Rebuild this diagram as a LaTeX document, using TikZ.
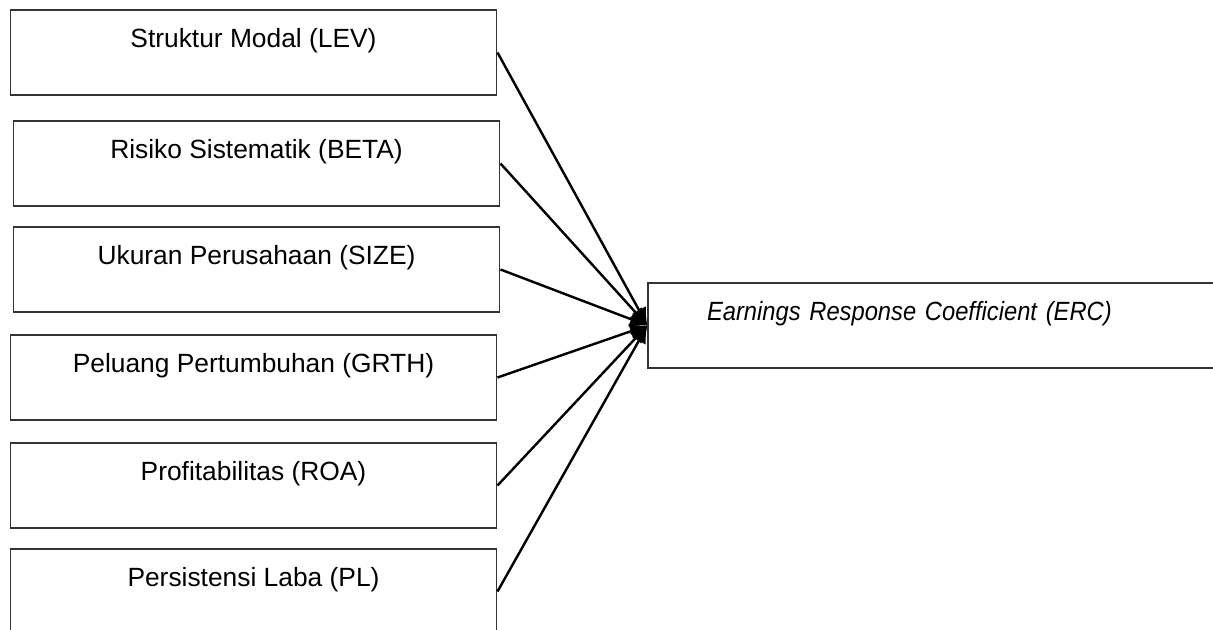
\documentclass[tikz,border=0pt]{standalone}
\usepackage{fontspec}
\setmainfont{Liberation Sans}
\newfontfamily\ercfont[FakeStretch=0.9]{Liberation Sans}
\usetikzlibrary{arrows.meta, calc}

\tikzset{
  var/.style={draw=black!80, line width=0.5pt, minimum width=7.79cm, inner xsep=0pt, inner ysep=0.3cm,
              text height=0.3cm, text depth=0.46cm, font=\fontsize{12}{14}\selectfont},
  link/.style={line width=1.1pt, -{Latex[length=0.28cm,width=0.26cm]}}
}

\begin{document}
\begin{tikzpicture}
           \clip (0,0) rectangle (19.408,-10.08);
           % independent variables
           \node[var] at (4.056,-0.840) (LEV)  {Struktur Modal (LEV)};
           \node[var] at (4.104,-2.616) (BETA) {Risiko Sistematik (BETA)};
           \node[var] at (4.104,-4.312) (SIZE) {Ukuran Perusahaan (SIZE)};
           \node[var] at (4.056,-6.040) (GRTH) {Peluang Pertumbuhan (GRTH)};
           \node[var] at (4.056,-7.768) (ROA)  {Profitabilitas (ROA)};
           \node[var] at (4.056,-9.464) (PL)   {Persistensi Laba (PL)};
           % dependent variable
           \node[var, minimum width=9.152cm, text width=7.264cm, inner xsep=0.944cm, align=left,
                 font=\fontsize{12}{14}\selectfont\ercfont\itshape] at (14.944,-5.208) (ERC)
                {Earnings Response Coefficient (ERC)};

           \foreach \v in {LEV,BETA,SIZE,GRTH,ROA,PL}
           {
            \draw[link] (\v.east) -- (ERC.west);
           }
\end{tikzpicture}
\end{document}
